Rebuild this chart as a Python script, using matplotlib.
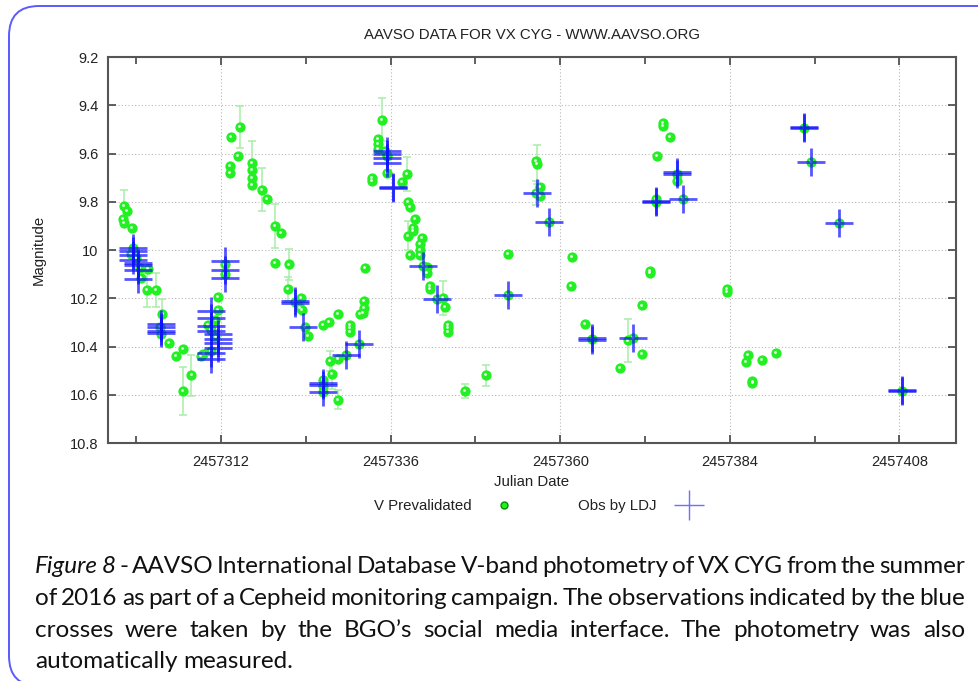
import matplotlib
matplotlib.use("Agg")
import matplotlib.pyplot as plt
from matplotlib.lines import Line2D
from matplotlib.patches import FancyBboxPatch
from matplotlib.transforms import IdentityTransform
from matplotlib.ticker import MultipleLocator, FuncFormatter
import numpy as np

# V Prevalidated (AAVSO)
v_jd = [2457298.3, 2457298.7, 2457298.1, 2457298.3, 2457299.4, 2457299.6, 2457299.3, 2457300.0,
        2457300.5, 2457300.7, 2457301.7, 2457301.5, 2457302.8, 2457303.7, 2457303.4, 2457303.5,
        2457304.6, 2457305.6, 2457306.6, 2457307.8, 2457306.6, 2457309.5, 2457309.2, 2457310.2,
        2457311.6, 2457311.2, 2457310.6, 2457311.6, 2457310.6, 2457311.2, 2457312.6, 2457312.6,
        2457313.4, 2457314.7, 2457314.4, 2457313.3, 2457313.3, 2457316.4, 2457316.4, 2457316.4,
        2457316.4, 2457317.8, 2457318.5, 2457319.6, 2457320.5, 2457319.6, 2457321.6, 2457321.5,
        2457323.3, 2457323.2, 2457323.5, 2457322.5, 2457323.9, 2457324.3, 2457326.4, 2457327.3,
        2457328.5, 2457330.2, 2457330.2, 2457330.2, 2457331.7, 2457332.1, 2457332.2, 2457332.2,
        2457332.4, 2457327.4, 2457327.7, 2457326.4, 2457326.4, 2457326.4, 2457328.5, 2457328.5,
        2457329.7, 2457331.5, 2457334.8, 2457334.2, 2457334.2, 2457334.2, 2457335.2, 2457333.4,
        2457333.4, 2457335.5, 2457335.5, 2457337.6, 2457338.3, 2457338.5, 2457338.7, 2457339.4,
        2457339.2, 2457339.2, 2457338.5, 2457340.4, 2457340.2, 2457340.2, 2457340.2, 2457338.7,
        2457340.6, 2457341.1, 2457341.1, 2457341.6, 2457341.6, 2457342.6, 2457343.4, 2457343.7,
        2457344.1, 2457344.1, 2457344.1, 2457346.5, 2457349.5, 2457352.6, 2457352.6, 2457356.6,
        2457356.7, 2457357.1, 2457357.1, 2457356.6, 2457358.4, 2457361.6, 2457361.5, 2457363.5,
        2457364.5, 2457368.4, 2457369.6, 2457370.3, 2457371.5, 2457371.5, 2457372.7, 2457372.7,
        2457373.7, 2457374.5, 2457374.5, 2457375.5, 2457373.5, 2457373.5, 2457376.5, 2457376.5,
        2457377.3, 2457383.6, 2457383.6, 2457386.5, 2457386.3, 2457387.2, 2457387.2, 2457388.5,
        2457390.5, 2457394.5, 2457395.5, 2457399.4, 2457408.3]
v_mag = [9.818, 9.840, 9.870, 9.890, 9.910, 9.990, 10.017, 10.033,
         10.075, 10.116, 10.080, 10.166, 10.166, 10.265, 10.320, 10.350,
         10.385, 10.440, 10.410, 10.520, 10.585, 10.430, 10.440, 10.310,
         10.250, 10.360, 10.420, 10.195, 10.330, 10.290, 10.060, 10.100,
         9.532, 9.490, 9.610, 9.650, 9.680, 9.640, 9.670, 9.700,
         9.730, 9.750, 9.790, 9.900, 9.930, 10.055, 10.060, 10.160,
         10.200, 10.240, 10.250, 10.215, 10.320, 10.355, 10.310, 10.300,
         10.265, 10.310, 10.325, 10.340, 10.265, 10.260, 10.240, 10.210,
         10.075, 10.460, 10.515, 10.540, 10.565, 10.590, 10.620, 10.450,
         10.435, 10.390, 9.460, 9.540, 9.560, 9.580, 9.590, 9.700,
         9.715, 9.680, 9.610, 9.720, 9.685, 9.800, 9.820, 9.870,
         9.910, 9.920, 9.940, 9.950, 9.975, 10.000, 10.020, 10.020,
         10.065, 10.070, 10.095, 10.150, 10.160, 10.205, 10.200, 10.235,
         10.310, 10.325, 10.340, 10.585, 10.520, 10.017, 10.185, 9.630,
         9.645, 9.740, 9.775, 9.765, 9.885, 10.030, 10.150, 10.305,
         10.370, 10.490, 10.375, 10.365, 10.430, 10.230, 10.085, 10.095,
         9.610, 9.475, 9.485, 9.530, 9.790, 9.800, 9.685, 9.715,
         9.790, 10.160, 10.175, 10.435, 10.465, 10.545, 10.550, 10.455,
         10.425, 9.495, 9.635, 9.890, 10.585]
v_err = [0.065, 0, 0, 0, 0, 0, 0, 0,
         0, 0, 0, 0.07, 0.07, 0.06, 0, 0,
         0, 0, 0, 0.085, 0.10, 0, 0, 0,
         0, 0, 0, 0, 0, 0, 0, 0,
         0, 0.087, 0, 0, 0, 0.09, 0, 0,
         0, 0.09, 0, 0.09, 0, 0, 0.065, 0.05,
         0, 0, 0, 0, 0, 0, 0, 0,
         0, 0, 0, 0, 0, 0, 0, 0,
         0, 0.04, 0.06, 0, 0, 0, 0.04, 0,
         0, 0, 0.09, 0, 0, 0, 0, 0,
         0, 0, 0, 0, 0.07, 0, 0, 0,
         0, 0, 0.06, 0, 0, 0, 0, 0,
         0, 0, 0, 0, 0, 0, 0.07, 0,
         0, 0, 0, 0.03, 0.045, 0, 0, 0,
         0.08, 0, 0, 0.05, 0, 0, 0, 0,
         0, 0, 0.09, 0, 0, 0, 0, 0,
         0, 0, 0, 0, 0, 0, 0, 0,
         0, 0, 0, 0, 0, 0, 0, 0,
         0, 0, 0, 0, 0]

# Obs by LDJ
ldj_jd = [2457299.6, 2457299.6, 2457299.6, 2457299.6, 2457300.3, 2457300.3, 2457300.3, 2457300.3,
          2457303.5, 2457303.5, 2457303.5, 2457303.5,
          2457310.6, 2457310.6, 2457310.6, 2457310.6, 2457310.6, 2457310.6,
          2457311.6, 2457311.6, 2457311.6, 2457311.6,
          2457312.6, 2457312.6, 2457312.6, 2457322.5, 2457322.5, 2457323.6,
          2457326.4, 2457326.4, 2457326.4, 2457329.7, 2457331.5,
          2457335.5, 2457335.5, 2457335.5, 2457335.5, 2457336.3, 2457336.3,
          2457340.6, 2457342.6, 2457352.6, 2457356.7, 2457358.4, 2457364.5, 2457364.5,
          2457370.3, 2457373.5, 2457373.5, 2457376.5, 2457376.5, 2457377.3,
          2457394.5, 2457394.5, 2457395.5, 2457399.4, 2457408.3, 2457408.3]
ldj_mag = [9.992, 10.004, 10.021, 10.041, 10.054, 10.064, 10.083, 10.120,
           10.305, 10.320, 10.335, 10.345,
           10.253, 10.282, 10.315, 10.336, 10.427, 10.452,
           10.348, 10.369, 10.385, 10.406,
           10.045, 10.083, 10.116, 10.210, 10.220, 10.320,
           10.550, 10.560, 10.590, 10.435, 10.390,
           9.590, 9.600, 9.620, 9.640, 9.740, 9.745,
           10.065, 10.205, 10.185, 9.765, 9.885, 10.365, 10.375,
           10.365, 9.795, 9.800, 9.675, 9.685, 9.790,
           9.490, 9.495, 9.635, 9.890, 10.580, 10.585]

caption_lines = [
    "Figure 8 - AAVSO International Database V-band photometry of VX CYG from the summer",
    "of 2016 as part of a Cepheid monitoring campaign. The observations indicated by the blue",
    "crosses were taken by the BGO\u2019s social media interface. The photometry was also",
    "automatically measured.",
]

W, H = 979, 681
plt.rcParams['font.family'] = ['Liberation Sans', 'DejaVu Sans']
fig = plt.figure(figsize=(W / 100, H / 100), dpi=100)
ax = fig.add_axes([108 / W, 1 - 443 / H, (956 - 108) / W, (443 - 57) / H])

v_jd = np.array(v_jd)
v_mag = np.array(v_mag)
v_err = np.array(v_err)
has_err = v_err > 0
ax.errorbar(v_jd[has_err], v_mag[has_err], yerr=v_err[has_err], fmt='none',
            ecolor='#a8eea8', elinewidth=1.1, capsize=3, capthick=1.1, zorder=2)
ax.plot(v_jd, v_mag, 'o', color='#22f022', markersize=7.4, markeredgewidth=0, zorder=3)
ax.plot(v_jd - 0.12, v_mag - 0.004, '.', color='white', markersize=2.2, alpha=0.8, zorder=3.5)
ax.plot(ldj_jd, ldj_mag, '+', color='#0f0fff', markersize=19.5, markeredgewidth=2.0,
        alpha=0.7, zorder=4)

ax.set_xlim(2457296, 2457416)
ax.set_ylim(10.8, 9.2)
ax.xaxis.set_major_locator(MultipleLocator(24, offset=0))
ax.xaxis.set_minor_locator(MultipleLocator(12))
ax.yaxis.set_major_locator(MultipleLocator(0.2))
ax.xaxis.set_major_formatter(FuncFormatter(lambda v, p: f'{v:.0f}'))
ax.yaxis.set_major_formatter(FuncFormatter(lambda v, p: f'{round(v, 1):g}'))
ax.tick_params(which='both', direction='in', top=True, right=True, colors='#444444',
               labelcolor='#222222', labelsize=10.5, width=1.2)
ax.tick_params(which='major', length=6, pad=9)
ax.tick_params(which='minor', length=5)
ax.tick_params(axis='y', pad=7)
for s in ax.spines.values():
    s.set_color('#555555')
    s.set_linewidth(1.5)
ax.grid(True, which='major', color='#b8b8b8', linestyle=(0, (1, 2)), linewidth=0.8)
ax.set_axisbelow(True)

ax.set_title('AAVSO DATA FOR VX CYG - WWW.AAVSO.ORG', fontsize=10.8, color='#222222', pad=13)
ax.set_xlabel('Julian Date', fontsize=10.8, color='#222222', labelpad=4)
ax.set_ylabel('Magnitude', fontsize=10.8, color='#222222', labelpad=17)

handles = [Line2D([], [], marker='o', linestyle='none', color='#22f022', markersize=5,
                  markeredgecolor='#0a8a0a', markeredgewidth=1.0),
           Line2D([], [], marker='+', linestyle='none', color='#6f6fff', markersize=22,
                  markeredgewidth=1.0)]
fig.legend(handles, ['V Prevalidated', 'Obs by LDJ'], loc='center', ncol=2, frameon=False,
           markerfirst=False, handlelength=2.5, handletextpad=0.9, columnspacing=3.7,
           fontsize=10.8, labelcolor='#222222',
           bbox_to_anchor=(541 / W, 1 - 506 / H))

# rounded border
border = FancyBboxPatch((9, H - 686), 1100, 686 - 6, boxstyle='round,pad=0,rounding_size=30',
                        transform=IdentityTransform(), fill=False, edgecolor='#5a5aff',
                        linewidth=1.4)
fig.patches.append(border)

# justified caption
cap_font = dict(family='Lato', fontsize=17.5, color='#111111')
renderer = fig.canvas.get_renderer()
left, right = 35, 965
baselines = [573, 605, 637, 668]
for li, (line, yb) in enumerate(zip(caption_lines, baselines)):
    words = line.split(' ')
    styles = ['italic' if (li == 0 and wi < 2) else 'normal' for wi in range(len(words))]
    widths = []
    for w, st in zip(words, styles):
        t = fig.text(0, 0, w, fontstyle=st, **cap_font)
        widths.append(t.get_window_extent(renderer).width)
        t.remove()
    if li < len(caption_lines) - 1:
        gap = (right - left - sum(widths)) / (len(words) - 1)
    else:
        sp = fig.text(0, 0, 'a a', **cap_font)
        sp2 = fig.text(0, 0, 'aa', **cap_font)
        gap = sp.get_window_extent(renderer).width - sp2.get_window_extent(renderer).width
        sp.remove()
        sp2.remove()
    x = left
    for w, st, wd in zip(words, styles, widths):
        fig.text(x / W, 1 - yb / H, w, fontstyle=st, va='baseline', ha='left', **cap_font)
        x += wd + gap

fig.savefig('out.png', dpi=100)
